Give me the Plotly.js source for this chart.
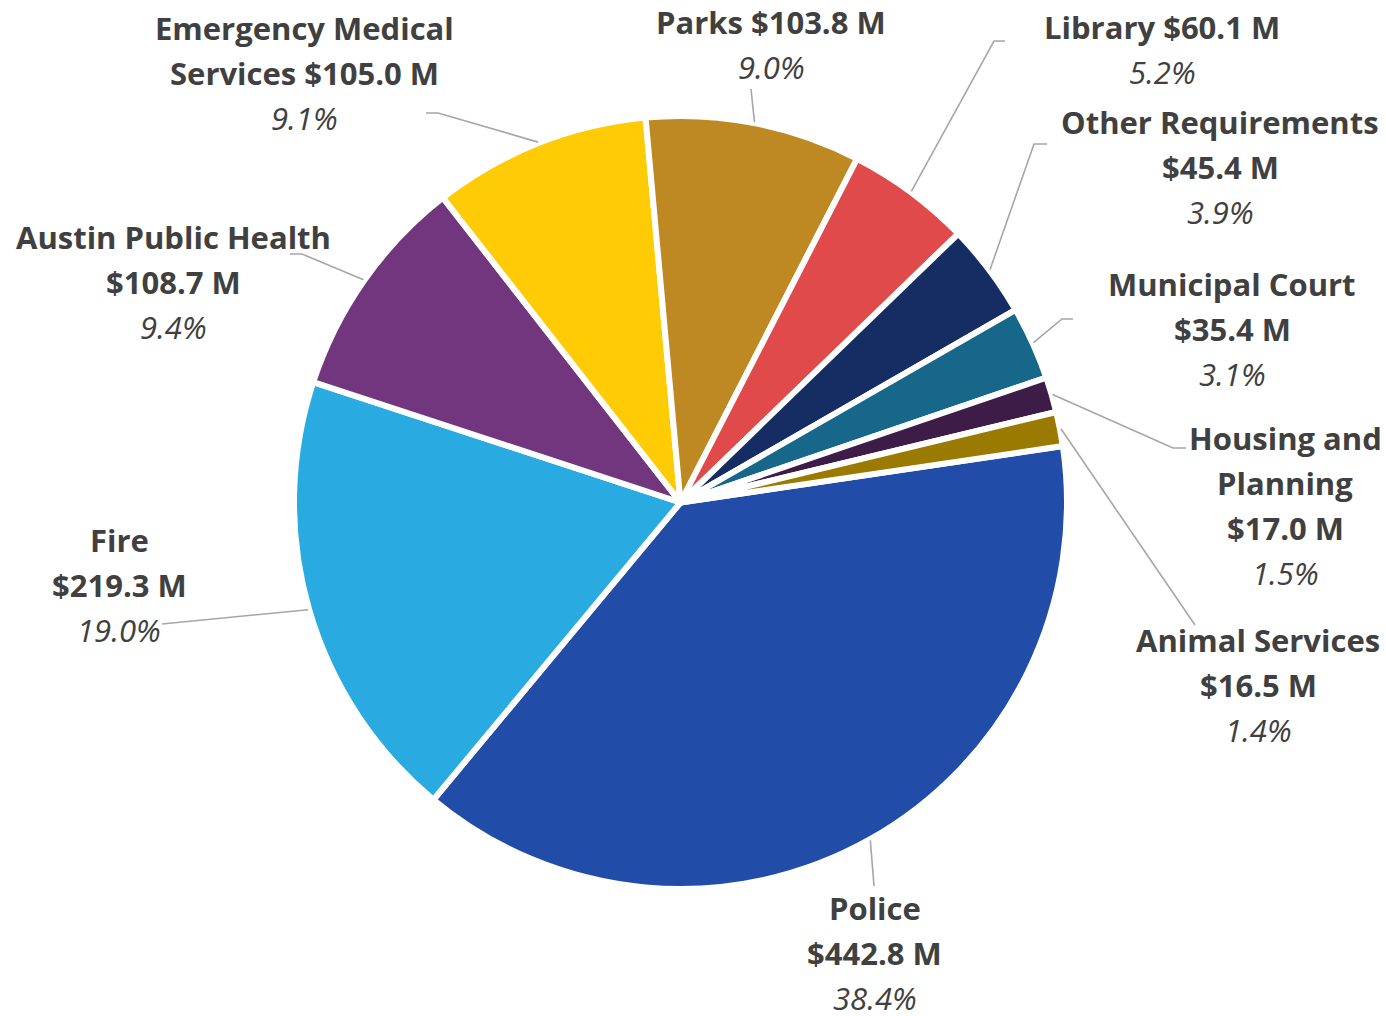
<!DOCTYPE html>
<html>
<head>
<meta charset="utf-8">
<script src="https://cdn.plot.ly/plotly-3.0.1.min.js"></script>
<style>
  html, body { margin: 0; padding: 0; background: #ffffff; }
  #chart { width: 1386px; height: 1016px; }
</style>
</head>
<body>
<div id="chart"></div>
<script>
// ---- data ----
const categories = ["Police", "Fire", "Austin Public Health", "Emergency Medical Services", "Parks", "Library", "Other Requirements", "Municipal Court", "Housing and Planning", "Animal Services"];
const values = [442.8, 219.3, 108.7, 105.0, 103.8, 60.1, 45.4, 35.4, 17.0, 16.5];
const colors = ["#214DA9", "#29ABE2", "#71367E", "#FFCB05", "#BE8822", "#E04A4A", "#162D64", "#16678A", "#3E1C48", "#9A7A00"];
// label line layout ({v} = value)
const labelTemplates = ["Police|{v}", "Fire|{v}", "Austin Public Health|{v}", "Emergency Medical|Services {v}", "Parks {v}", "Library {v}", "Other Requirements|{v}", "Municipal Court|{v}", "Housing and|Planning|{v}", "Animal Services|{v}"];

// ---- layout config ----
const W = 1386, H = 1016;
const CX = 680.5, CY = 502.5, R = 383.5, BORDER = 6;
const ROT = 81.6;
const labelPos = [[875, 908], [119, 540], [173, 237], [304, 28], [771, 22], [1162, 27], [1220, 122], [1232, 284], [1285, 438], [1258, 640]];
const lineStep = 45;
const leaderEnds = [[[874, 886]], [[162, 624]], [[290, 254], [302, 254]], [[426, 113], [438, 113]], [[751, 89]], [[1005, 41], [994, 41]], [[1047, 144], [1034, 144]], [[1073, 319], [1062, 319]], [[1186, 448], [1173, 448]], [[1195, 625]]];
const FONT = "'Open Sans', sans-serif";
const FSIZE = 31;
const TXT = "#404040";

const total = values.reduce((a, b) => a + b, 0);
const px = x => x / W;
const py = y => 1 - y / H;

const annotations = [];
const shapes = [];
let cum = 0;
values.forEach((v, i) => {
  const mid = ROT + (cum + v / 2) / total * 360;
  cum += v;
  const a = mid * Math.PI / 180;
  const sx = CX + (R + 4) * Math.sin(a);
  const sy = CY - (R + 4) * Math.cos(a);
  const pts = leaderEnds[i].concat([[sx, sy]]);
  const d = pts.map((p, k) => (k === 0 ? "M" : "L") + px(p[0]).toFixed(5) + "," + py(p[1]).toFixed(5)).join(" ");
  shapes.push({type: "path", xref: "paper", yref: "paper", path: d, line: {color: "#A6A6A6", width: 1.6}});

  const valStr = "$" + v.toFixed(1) + " M";
  const lines = labelTemplates[i].replace("{v}", valStr).split("|");
  const pct = (v / total * 100).toFixed(1) + "%";
  const [lx, ly] = labelPos[i];
  lines.forEach((t, k) => {
    annotations.push({xref: "paper", yref: "paper", x: px(lx), y: py(ly + k * lineStep), xanchor: "center", yanchor: "middle",
      text: "<b>" + t + "</b>", showarrow: false, font: {family: FONT, size: FSIZE, color: TXT}});
  });
  annotations.push({xref: "paper", yref: "paper", x: px(lx), y: py(ly + lines.length * lineStep), xanchor: "center", yanchor: "middle",
    height: 32, borderpad: 0,
    text: "<i>" + pct + "</i>", showarrow: false, font: {family: FONT, size: FSIZE, color: TXT}});
});

const Ro = R + BORDER / 2;
const trace = {
  type: "pie",
  labels: categories,
  values: values,
  sort: false,
  direction: "clockwise",
  rotation: ROT,
  textinfo: "none",
  hoverinfo: "label+value+percent",
  marker: {colors: colors, line: {color: "#ffffff", width: BORDER}},
  domain: {x: [px(CX - Ro), px(CX + Ro)], y: [py(CY + Ro), py(CY - Ro)]},
  showlegend: false
};

Plotly.newPlot("chart", [trace], {
  width: W, height: H,
  margin: {l: 0, r: 0, t: 0, b: 0},
  paper_bgcolor: "#ffffff",
  showlegend: false,
  annotations: annotations,
  shapes: shapes
}, {displayModeBar: false, staticPlot: true});
</script>
</body>
</html>
